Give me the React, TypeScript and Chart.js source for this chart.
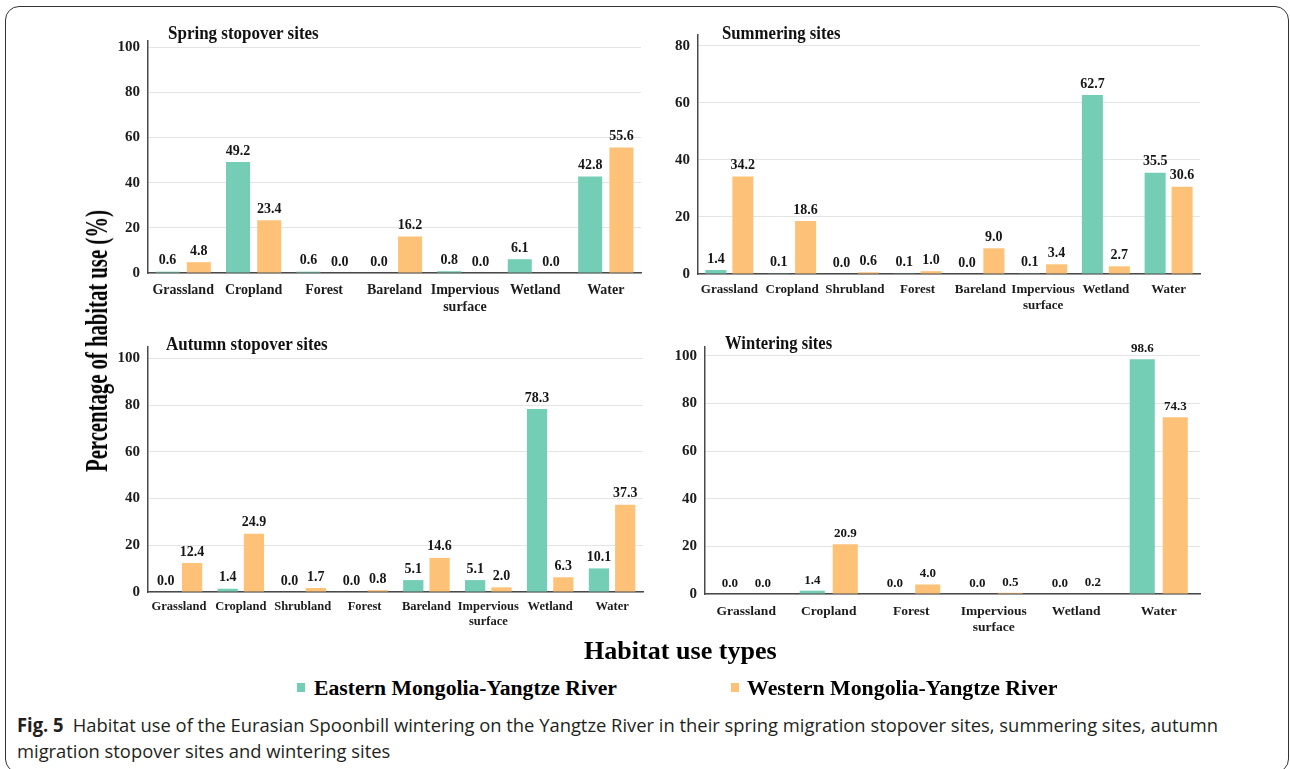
import React, { useEffect, useLayoutEffect, useRef } from 'react';
import { Chart, registerables } from 'chart.js';
Chart.register(...registerables);

// ---------------- DATA ----------------
const seriesNames = ['Eastern Mongolia-Yangtze River', 'Western Mongolia-Yangtze River'];
const panelTitles = ['Spring stopover sites', 'Summering sites', 'Autumn stopover sites', 'Wintering sites'];

const springCategories = ['Grassland', 'Cropland', 'Forest', 'Bareland', 'Impervious surface', 'Wetland', 'Water'];
const springEast = [0.6, 49.2, 0.6, 0.0, 0.8, 6.1, 42.8];
const springWest = [4.8, 23.4, 0.0, 16.2, 0.0, 0.0, 55.6];
const springTicks = [0, 20, 40, 60, 80, 100];

const summerCategories = ['Grassland', 'Cropland', 'Shrubland', 'Forest', 'Bareland', 'Impervious surface', 'Wetland', 'Water'];
const summerEast = [1.4, 0.1, 0.0, 0.1, 0.0, 0.1, 62.7, 35.5];
const summerWest = [34.2, 18.6, 0.6, 1.0, 9.0, 3.4, 2.7, 30.6];
const summerTicks = [0, 20, 40, 60, 80];

const autumnCategories = ['Grassland', 'Cropland', 'Shrubland', 'Forest', 'Bareland', 'Impervious surface', 'Wetland', 'Water'];
const autumnEast = [0.0, 1.4, 0.0, 0.0, 5.1, 5.1, 78.3, 10.1];
const autumnWest = [12.4, 24.9, 1.7, 0.8, 14.6, 2.0, 6.3, 37.3];
const autumnTicks = [0, 20, 40, 60, 80, 100];

const winterCategories = ['Grassland', 'Cropland', 'Forest', 'Impervious surface', 'Wetland', 'Water'];
const winterEast = [0.0, 1.4, 0.0, 0.0, 0.0, 98.6];
const winterWest = [0.0, 20.9, 4.0, 0.5, 0.2, 74.3];
const winterTicks = [0, 20, 40, 60, 80, 100];

const yAxisTitle = 'Percentage of habitat use (%)';
const xAxisTitle = 'Habitat use types';
const captionBold = 'Fig. 5';
const captionLine1 = 'Habitat use of the Eurasian Spoonbill wintering on the Yangtze River in their spring migration stopover sites, summering sites, autumn';
const captionLine2 = 'migration stopover sites and wintering sites';

// ---------------- STYLE / LAYOUT ----------------
const EAST_COLOR = '#74CDB5';
const WEST_COLOR = '#FDC277';
const SERIF = '"Liberation Serif", "Times New Roman", serif';
const Y_W = 60;
const X_H = 52;
const PAD_T = 22;
const PAD_R = 8;

const panelData = [
  { cats: springCategories, east: springEast, west: springWest, ticks: springTicks },
  { cats: summerCategories, east: summerEast, west: summerWest, ticks: summerTicks },
  { cats: autumnCategories, east: autumnEast, west: autumnWest, ticks: autumnTicks },
  { cats: winterCategories, east: winterEast, west: winterWest, ticks: winterTicks },
];

const panelLayout = [
  { axisX: 148, topY: 41, tickTopY: 47.3, zeroY: 272.7, rightX: 641, cat: 0.886, bar: 0.77, labelSize: 14, catSize: 14, titleX: 168, titleY: 33, titleW: 151, xPad: 9 },
  { axisX: 698, topY: 35, tickTopY: 45.7, zeroY: 274.3, rightX: 1200, cat: 0.86, bar: 0.78, labelSize: 14, catSize: 13, titleX: 722, titleY: 33, titleW: 119, xPad: 8 },
  { axisX: 148, topY: 347, tickTopY: 358.3, zeroY: 591.7, rightX: 643, cat: 0.85, bar: 0.77, labelSize: 14, catSize: 12.5, titleX: 166, titleY: 344, titleW: 162, xPad: 7 },
  { axisX: 705, topY: 347, tickTopY: 356, zeroY: 594, rightX: 1200, cat: 0.8, bar: 0.76, labelSize: 13, catSize: 13.5, titleX: 725, titleY: 343, titleW: 107, xPad: 9 },
];

const valueLabels = {
  id: 'valueLabels',
  afterDatasetsDraw(chart: any) {
    const ctx = chart.ctx;
    const size = chart.options.plugins.valueLabels.size;
    ctx.save();
    ctx.font = `bold ${size}px ${SERIF}`;
    ctx.fillStyle = '#161616';
    ctx.textAlign = 'center';
    ctx.textBaseline = 'bottom';
    chart.data.datasets.forEach((ds: any, i: number) => {
      const meta = chart.getDatasetMeta(i);
      meta.data.forEach((bar: any, j: number) => {
        ctx.fillText(Number(ds.data[j]).toFixed(1), bar.x, bar.y - 4);
      });
    });
    ctx.restore();
  },
};

function Panel({ idx }: { idx: number }) {
  const ref = useRef<HTMLCanvasElement>(null);
  const d = panelData[idx];
  const L = panelLayout[idx];
  const left = L.axisX - Y_W;
  const top = L.topY - PAD_T;
  const width = Math.round(L.rightX - left + PAD_R);
  const height = Math.round(PAD_T + (L.zeroY - L.topY) + X_H);
  const topTick = d.ticks[d.ticks.length - 1];
  const yMax = (topTick * (L.zeroY - L.topY)) / (L.zeroY - L.tickTopY);

  useEffect(() => {
    const chart = new Chart(ref.current!, {
      type: 'bar',
      data: {
        labels: d.cats.map((c) => (c.includes(' ') ? c.split(' ') : c)),
        datasets: [
          { label: seriesNames[0], data: d.east, backgroundColor: EAST_COLOR, categoryPercentage: L.cat, barPercentage: L.bar },
          { label: seriesNames[1], data: d.west, backgroundColor: WEST_COLOR, categoryPercentage: L.cat, barPercentage: L.bar },
        ],
      },
      options: {
        responsive: false,
        animation: false,
        layout: { padding: { top: PAD_T, right: PAD_R, left: 0, bottom: 0 } },
        plugins: {
          legend: { display: false },
          title: { display: false },
          tooltip: { enabled: false },
          valueLabels: { size: L.labelSize },
        } as any,
        scales: {
          x: {
            grid: { display: false, drawTicks: false },
            border: { display: true, color: '#4a4a4a', width: 1.5 },
            ticks: {
              padding: L.xPad,
              color: '#1c1c1c',
              autoSkip: false,
              maxRotation: 0,
              font: { family: SERIF, weight: 'bold', size: L.catSize, lineHeight: 1.2 },
            },
            afterFit: (s: any) => { s.height = X_H; },
          },
          y: {
            min: 0,
            max: yMax,
            grid: { color: '#e4e4e4', lineWidth: 1, drawTicks: false },
            border: { display: true, color: '#4a4a4a', width: 1.5 },
            ticks: {
              padding: 8,
              color: '#1c1c1c',
              font: { family: SERIF, weight: 'bold', size: 15 },
            },
            afterBuildTicks: (s: any) => { s.ticks = d.ticks.map((v) => ({ value: v })); },
            afterFit: (s: any) => { s.width = Y_W; },
          },
        },
      } as any,
      plugins: [valueLabels],
    });
    return () => chart.destroy();
  }, []);

  return (
    <canvas
      ref={ref}
      width={width}
      height={height}
      style={{ position: 'absolute', left, top, width, height }}
    />
  );
}

function FitText({ x, y, w, font, color = '#000', rotate = false, children }: any) {
  const ref = useRef<HTMLDivElement>(null);
  useLayoutEffect(() => {
    const el = ref.current!;
    const natural = el.offsetWidth;
    const s = w / natural;
    if (rotate) el.style.transform = `translate(-50%,-50%) rotate(-90deg) scaleX(${s})`;
    else el.style.transform = `translateY(-50%) scaleX(${s})`;
  }, [w]);
  return (
    <div
      ref={ref}
      style={{
        position: 'absolute',
        left: x,
        top: y,
        font,
        color,
        whiteSpace: 'nowrap',
        lineHeight: 1,
        transformOrigin: rotate ? '50% 50%' : '0 50%',
      }}
    >
      {children}
    </div>
  );
}

export default function App() {
  return (
    <div style={{ position: 'fixed', left: 0, top: 0, width: 1290, height: 769, background: '#fff', overflow: 'hidden' }}>
      <div
        style={{
          position: 'absolute', left: 5, top: 6, width: 1284, height: 767,
          border: '1.5px solid #333', borderRadius: 14, boxSizing: 'border-box',
        }}
      />
      {panelLayout.map((L, i) => (
        <React.Fragment key={i}>
          <Panel idx={i} />
          <FitText x={L.titleX} y={L.titleY} w={L.titleW} font={`bold 18px ${SERIF}`} color="#111">
            {panelTitles[i]}
          </FitText>
        </React.Fragment>
      ))}
      <FitText x={96} y={341} w={262} rotate font={`bold 32px ${SERIF}`} color="#000">
        {yAxisTitle}
      </FitText>
      <FitText x={584} y={650} w={193} font={`bold 25px ${SERIF}`} color="#000">
        {xAxisTitle}
      </FitText>
      <div style={{ position: 'absolute', left: 297, top: 683, width: 8, height: 9, background: EAST_COLOR }} />
      <FitText x={314} y={688} w={303} font={`bold 20px ${SERIF}`} color="#000">
        {seriesNames[0]}
      </FitText>
      <div style={{ position: 'absolute', left: 731, top: 683, width: 8, height: 9, background: WEST_COLOR }} />
      <FitText x={747} y={688} w={310} font={`bold 20px ${SERIF}`} color="#000">
        {seriesNames[1]}
      </FitText>
      <FitText x={17} y={725} w={1201} font={`19px "Open Sans", sans-serif`} color="#231f20">
        <span style={{ fontWeight: 700 }}>{captionBold}</span>
        {'\u2002' + captionLine1}
      </FitText>
      <FitText x={17} y={751} w={373} font={`19px "Open Sans", sans-serif`} color="#231f20">
        {captionLine2}
      </FitText>
    </div>
  );
}
